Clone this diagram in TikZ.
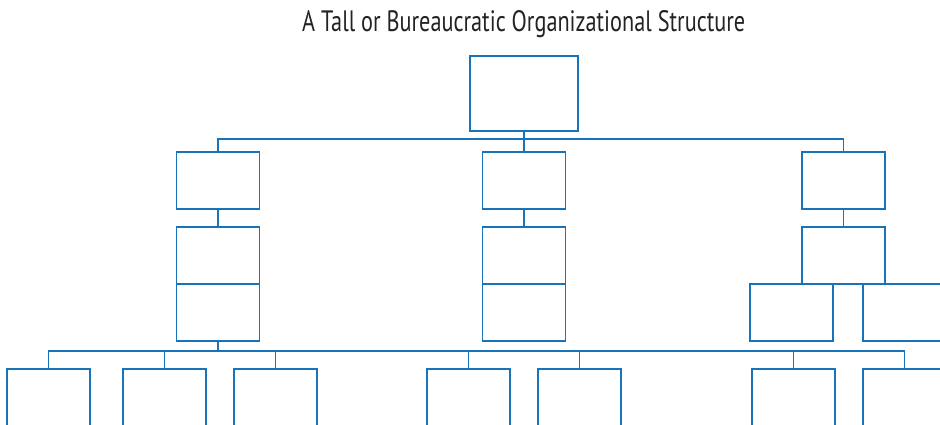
\documentclass[tikz,border=0pt]{standalone}
\usepackage{fontspec}
\setmainfont{PT Sans}
\definecolor{orgblue}{RGB}{25,115,185}
\definecolor{titlegray}{RGB}{35,35,35}
\begin{document}
\begin{tikzpicture}[x=1pt,y=-1pt,
  box/.style={draw=orgblue, line width=1.6pt, rectangle, inner sep=0pt, outer sep=0pt, minimum width=83pt, minimum height=57pt},
  bigbox/.style={box, minimum width=108pt, minimum height=75pt},
  conn/.style={draw=orgblue, line width=1.6pt}]
\clip (0,0) rectangle (940,424);
\fill[white] (0,0) rectangle (940,424);
% title
\node[anchor=base west, inner sep=0pt, text=titlegray] (title) at (302,31) {\resizebox{443pt}{21pt}{A Tall or Bureaucratic Organizational Structure}};
% top
\node[bigbox] (top) at (524,93.5) {};
% level 1
\node[box] (a1) at (218,180.5) {};
\node[box] (b1) at (524,180.5) {};
\node[box] (c1) at (843.5,180.5) {};
% level 2
\node[box] (a2) at (218,255.5) {};
\node[box] (b2) at (524,255.5) {};
\node[box] (c2) at (843.5,255.5) {};
% level 3
\node[box] (a3) at (218,312.5) {};
\node[box] (b3) at (524,312.5) {};
\node[box] (c3) at (791.5,312.5) {};
\node[box] (c4) at (904.5,312.5) {};
% bottom
\node[box] (d1) at (48.5,397.5) {};
\node[box] (d2) at (164.5,397.5) {};
\node[box] (d3) at (275.5,397.5) {};
\node[box] (d4) at (468.5,397.5) {};
\node[box] (d5) at (579.5,397.5) {};
\node[box] (d6) at (793.5,397.5) {};
\node[box] (d7) at (904.5,397.5) {};
\coordinate (bustop) at (0,139);
\coordinate (busbot) at (0,351);
% connectors
\draw[conn] (top.south) -- (b1.north);
\draw[conn] (a1.north) |- (c1.north |- bustop) -- (c1.north);
\draw[conn] (a1.south) -- (a2.north);
\draw[conn] (b1.south) -- (b2.north);
\draw[conn] (c1.south) -- (c2.north);
\draw[conn] (c3.north) -- (c4.north);
\draw[conn] (a3.south) -- (a3.south |- busbot);
\draw[conn] (d1.north) |- (d7.north |- busbot) -- (d7.north);
\foreach \n in {d2,d3,d4,d5,d6} {\draw[conn] (\n.north) -- (\n.north |- busbot);}
\end{tikzpicture}
\end{document}
